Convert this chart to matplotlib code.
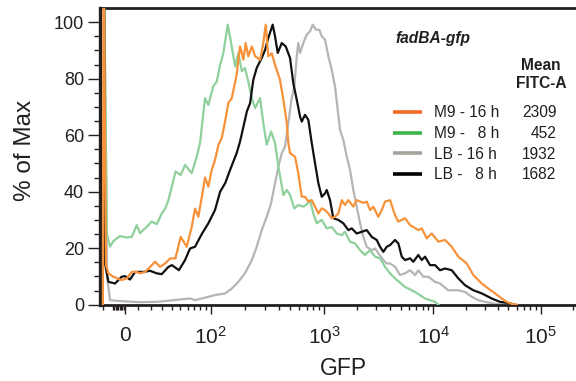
import numpy as np
import matplotlib
matplotlib.use("Agg")
import matplotlib.pyplot as plt
from matplotlib.lines import Line2D
from matplotlib.ticker import FixedLocator, FixedFormatter

plt.rcParams['font.family'] = ['Liberation Sans', 'DejaVu Sans']
plt.rcParams['mathtext.fontset'] = 'custom'
plt.rcParams['mathtext.rm'] = 'Liberation Sans'
plt.rcParams['mathtext.it'] = 'Liberation Sans:italic'
plt.rcParams['mathtext.bf'] = 'Liberation Sans:bold'

# ---------------- data (GFP intensity, % of max) ----------------
m9_16_x = [-17, -16.5, -14.5, -12.6, -8.8, -2.5, 1.3, 5.0, 8.8, 11.3, 15.3, 19.4, 23.7, 28.2, 33.1,
           38.4, 44.2, 50.5, 58.5, 65.8, 70.9, 76.4, 82.4, 88.5, 95.1, 102, 109, 117, 125, 134, 143,
           153, 169, 181, 194, 203, 214, 230, 246, 272, 290, 305, 321, 344, 368, 407, 436, 467, 482,
           499, 552, 590, 633, 676, 723, 775, 828, 886, 949, 1015, 1088, 1169, 1254, 1344, 1444,
           1548, 1661, 1845, 1983, 2126, 2279, 2449, 2626, 2815, 3129, 3362, 3605, 4007, 4452, 4775,
           5500, 6113, 7286, 7826, 8698, 9667, 11130, 12850, 14840, 17100, 20460, 23580, 28230,
           32530, 37540, 43350, 48250, 53700, 59770]
m9_16_y = [0, 130, 14, 11.1, 9.9, 8.7, 9.3, 11.6, 11.6, 11.1, 11.6, 13.4, 15.2, 13.4, 14.6,
           16.4, 16.4, 24, 20.5, 27.6, 34, 31.1, 38, 45, 41.8, 47.7, 51.2, 56.6, 59, 65, 71.5,
           73, 81.4, 91.4, 86.7, 92.6, 87.9, 91.4, 87.9, 86.7, 92.6, 99.1, 87.9, 89, 84.9, 79.6,
           72.5, 64.3, 57.2, 53.6, 52.4, 46.5, 38.2, 38.2, 36.5, 37, 34.7, 32.3, 34.1, 33.5, 32.3,
           30.6, 31.1, 32.3, 37, 35.3, 37, 34.7, 37, 36.5, 36, 36.5, 33.5, 34.7, 31.1, 33.5, 36.5,
           37, 31.7, 29.4, 30.6, 28.2, 26.4, 27, 23.5, 25.2, 22.3, 22.9, 20.5, 17, 14.6, 10.5, 7.5,
           5.7, 4, 2.2, 1, 0.3, 0]

m9_8_x = [-16.5, -13.7, -11.3, -8.8, -3.7, -1.3, 1.3, 5.0, 8.8, 11.3, 15.3, 20.8, 25.2, 29.8, 33.1,
          36.5, 40.3, 44.2, 50.5, 56.2, 65.8, 73.7, 79.3, 88.5, 95.1, 105, 113, 121, 129, 141, 153,
          164, 175, 188, 200, 214, 230, 246, 272, 290, 311, 340, 368, 394, 436, 467, 499, 544, 590,
          653, 700, 748, 800, 857, 949, 1052, 1169, 1300, 1444, 1548, 1721, 1912, 2126, 2362, 2626,
          2919, 3243, 3605, 4007, 4452, 5500, 6794, 8392, 10370, 11130]
m9_8_y = [130, 25, 20.5, 22.5, 24.3, 24, 23.8, 24, 28.2, 25.3, 27, 29.4, 28.5, 32.3, 34,
          37, 42, 47.1, 45.9, 49.5, 46.5, 52.4, 57.2, 73.1, 70.7, 77.2, 79, 84.9, 89, 99.1, 91.4,
          84.3, 89.1, 82.6, 83.8, 79, 73.1, 69.6, 73.1, 64.3, 56.6, 61.3, 57.2, 48.9, 38.8, 40.6,
          38.8, 34.1, 35.3, 34.7, 35.5, 37, 32.3, 28.8, 30, 27, 27.5, 25.2, 24.6, 25.8, 22.3, 21.7,
          19.3, 17.6, 19.3, 17, 16.4, 13.4, 11.1, 9.3, 6.3, 4.5, 2.2, 1, 0]

lb_16_x = [-16.1, -13.7, -11.3, -1.3, 11.3, 25.2, 42.1, 63.2, 70.9, 88.5, 109, 134, 153, 175, 200,
           230, 254, 281, 311, 340, 368, 394, 422, 451, 482, 516, 544, 572, 590, 611, 653, 700, 748,
           790, 845, 904, 949, 1015, 1088, 1169, 1254, 1316, 1393, 1494, 1606, 1721, 1845, 1983,
           2126, 2279, 2449, 2722, 2919, 3129, 3478, 3737, 4007, 4452, 4949, 5500, 6113, 6794,
           7286, 8094, 8999, 10370, 11540, 13800, 17100, 19730, 22790, 26240, 30300, 37540, 46520]
lb_16_y = [120, 10, 1.6, 1.2, 0.9, 1, 1.6, 2.2, 1.6, 2.5, 3.4, 4, 5.7, 8.1, 11.1,
           15.8, 20.5, 26.4, 31.1, 35.9, 43, 48.9, 53.6, 56, 64.3, 73.1, 77.2, 87.9, 92.6, 89.1,
           92.6, 95.6, 96.7, 99.1, 97.3, 97.3, 95, 93.8, 87.9, 83.2, 77.2, 70.1, 61.9, 58.3, 52.4,
           47.7, 40.6, 34.7, 28.8, 24, 20.5, 19.3, 19.9, 18.2, 15.8, 14.6, 14.6, 13.4, 10.5, 11.1,
           12.2, 10.5, 12.2, 9.9, 9.9, 8.1, 7.5, 5.1, 5.1, 4.5, 2.8, 1.6, 1, 0.3, 0]

lb_8_x = [-16.1, -15.3, -12.6, -7.5, -2.5, 0, 3.7, 7.5, 13.9, 19.4, 25.2, 29.8, 36.5, 40.3, 48.3,
          56.2, 63.2, 70.9, 82.4, 95.1, 109, 121, 134, 148, 158, 169, 181, 194, 208, 222, 237, 254,
          281, 301, 321, 351, 368, 389, 422, 457, 499, 533, 572, 611, 633, 676, 723, 775, 828, 886,
          949, 1015, 1052, 1128, 1209, 1344, 1494, 1661, 1784, 1983, 2203, 2449, 2722, 3025, 3243,
          3478, 3737, 4007, 4452, 4775, 5131, 5500, 6113, 6554, 7286, 7826, 8392, 9326, 10370,
          11540, 12850, 14840, 17100, 19730, 23580, 28230, 34980, 41780, 49930, 57650]
lb_8_y = [120, 14.6, 8.1, 7.5, 9.9, 10.1, 8.9, 11.6, 11.6, 12, 11.1, 10.8, 13.4, 14, 12.2,
          15.8, 19.9, 20.5, 25, 28.8, 33.5, 40, 43, 47.7, 50.6, 53.6, 57.7, 63, 68.4, 71.3, 79.6,
          83.8, 87.3, 90.2, 94.4, 99.1, 95, 89.1, 92.6, 91.4, 87.3, 78.4, 72.5, 66.6, 64.8, 67.2,
          65.4, 57.2, 50.1, 43, 38.2, 39.4, 40.6, 37, 30.6, 30, 28.8, 26.4, 27, 25.2, 25.8, 26.4,
          24, 22.9, 20.5, 18.7, 20.5, 21.1, 22.9, 21.7, 17, 15.8, 16.4, 15.2, 17.6, 15.8, 17, 14,
          14, 12.2, 12.8, 12.2, 9.3, 6.9, 5.1, 4, 2.2, 1, 0.6, 0]

legend_labels = ["M9 - 16 h", "M9 -   8 h", "LB - 16 h", "LB -   8 h"]
mean_fitc = ["2309", "452", "1932", "1682"]
x_major = [0, 100, 1000, 10000, 100000]
x_major_labels = ["0", "10^{2}", "10^{3}", "10^{4}", "10^{5}"]
x_minor = ([-17] + list(range(-9, 0)) + list(range(10, 100, 10)) + list(range(200, 1000, 100))
           + list(range(2000, 10000, 1000)) + list(range(20000, 100000, 10000)) + [200000])

# ---------------- biexponential-like display scale ----------------
ANCH_LOG = [2, 3, 4, 5, 6, 7]
ANCH_U = [210.7, 324.3, 433.3, 540.7, 648.1, 755.5]


def fwd(x):
    x = np.asarray(x, dtype=float)
    lin = 125.0 + 49.8 * np.arcsinh(x / 37.0)
    lg = np.interp(np.log10(np.clip(x, 100, None)), ANCH_LOG, ANCH_U)
    return np.where(x < 100, lin, lg)


def inv(u):
    u = np.asarray(u, dtype=float)
    lin = 37.0 * np.sinh((np.clip(u, None, 210.7) - 125.0) / 49.8)
    lg = 10 ** np.interp(u, ANCH_U, ANCH_LOG)
    return np.where(u < 210.7, lin, lg)


W, H = 576, 381
ink = '#231f20'
fig = plt.figure(figsize=(W / 100, H / 100), dpi=100)
ax = fig.add_axes([100 / W, 1 - 304.7 / H, 476 / W, (304.7 - 8) / H])
ax.set_xscale('function', functions=(fwd, inv))

ax.plot(lb_16_x, lb_16_y, color='#b5b5b5', lw=1.6, zorder=2)
ax.plot(m9_8_x, m9_8_y, color='#8fd09c', lw=1.6, zorder=3)
ax.plot(lb_8_x, lb_8_y, color='#111111', lw=1.6, zorder=4)
ax.plot(m9_16_x, m9_16_y, color='#f7923a', lw=1.6, zorder=5)

ax.set_xlim(-19.4, 2.13e5)
ax.set_ylim(0, 105)

ax.xaxis.set_major_locator(FixedLocator(x_major))
ax.xaxis.set_major_formatter(FixedFormatter([r'$\mathregular{%s}$' % s for s in x_major_labels]))
ax.xaxis.set_minor_locator(FixedLocator(x_minor))
ax.yaxis.set_major_locator(FixedLocator([0, 20, 40, 60, 80, 100]))
ax.yaxis.set_minor_locator(FixedLocator(list(range(5, 105, 5))))

ax.tick_params(axis='x', which='major', length=6.5, width=1.0, colors=ink, labelsize=15, pad=9)
ax.tick_params(axis='x', which='minor', length=3.6, width=1.0, colors=ink)
ax.tick_params(axis='y', which='major', length=8.6, width=1.0, colors=ink, labelsize=13, pad=3)
ax.tick_params(axis='y', which='minor', length=4.0, width=1.0, colors=ink)

ax.spines['right'].set_visible(False)
ax.spines['left'].set_linewidth(2.4)
ax.spines['bottom'].set_linewidth(2.0)
ax.spines['top'].set_linewidth(2.0)
for s in ('left', 'bottom', 'top'):
    ax.spines[s].set_color(ink)


def fx(px):
    return px / W


def fy(py):
    return 1 - py / H


fig.text(fx(24.8), fy(150), '% of Max', rotation=90, ha='center', va='center',
         fontsize=17.5, color=ink)
fig.text(fx(343), fy(375), 'GFP', ha='center', va='baseline', fontsize=16.5, color=ink)

fs = 11.2
fig.text(fx(395), fy(42.7), 'fadBA-gfp', style='italic', weight='bold', fontsize=fs,
         ha='left', va='baseline', color=ink)
fig.text(fx(541), fy(70), 'Mean', weight='bold', fontsize=fs, ha='center', va='baseline', color=ink)
fig.text(fx(541), fy(88.3), 'FITC-A', weight='bold', fontsize=fs, ha='center', va='baseline',
         color=ink)

legend_colors = ['#f26a24', '#3cb54b', '#a2a59d', '#000000']
row_y = [111.7, 132.7, 153.3, 174.0]
for lab, val, col, ry in zip(legend_labels, mean_fitc, legend_colors, row_y):
    fig.add_artist(Line2D([fx(393.3), fx(421.7)], [fy(ry), fy(ry)], color=col, lw=2.6,
                          transform=fig.transFigure, solid_capstyle='butt'))
    fig.text(fx(434.3), fy(ry + 5.3), lab, fontsize=fs, ha='left', va='baseline', color=ink)
    fig.text(fx(556.7), fy(ry + 5.3), val, fontsize=fs, ha='right', va='baseline', color=ink)

fig.savefig('out.png', dpi=100)
